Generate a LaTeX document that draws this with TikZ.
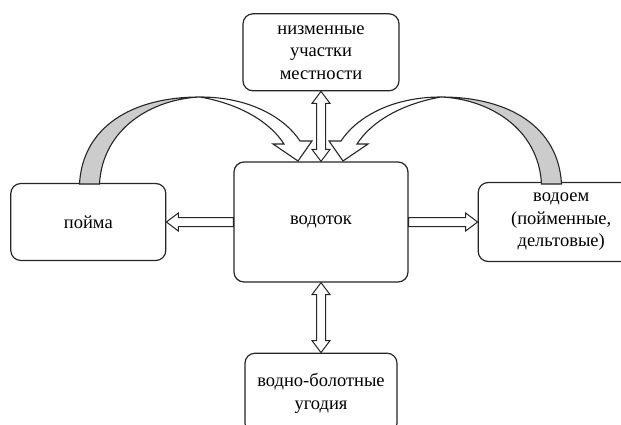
\documentclass[tikz,border=0pt]{standalone}
\usepackage{fontspec}
\setmainfont{Liberation Serif}
\usetikzlibrary{calc, positioning}

\tikzset{
  box/.style={draw=black!85, line width=1.2pt, rounded corners=10pt, fill=white,
    align=center, inner sep=2pt, font=\fontsize{18.5}{22.5}\selectfont},
  blockarrow/.style={draw=black!85, line width=1pt, fill=white, line join=miter},
  curvearrow/.style={draw=black!85, line width=1.1pt, fill=white, line join=miter},
  curveback/.style={curvearrow, fill=black!20},
}
\newcommand\shaftw{4.5pt}
\newcommand\headw{9pt}
\newcommand\headl{12pt}
% block arrow, tail #1, tip #2
\newcommand\oneway[2]{%
  \draw[blockarrow] ($(#1)!\shaftw!90:(#2)$) -- ($(#2)!\headl!(#1)!\shaftw!90:(#2)$)
    -- ($(#2)!\headl!(#1)!\headw!90:(#2)$) -- (#2)
    -- ($(#2)!\headl!(#1)!\headw!-90:(#2)$) -- ($(#2)!\headl!(#1)!\shaftw!-90:(#2)$)
    -- ($(#1)!\shaftw!-90:(#2)$) -- cycle;}
% block arrow with two heads
\newcommand\twoway[2]{%
  \draw[blockarrow] (#1) -- ($(#1)!\headl!(#2)!\headw!90:(#2)$) -- ($(#1)!\headl!(#2)!\shaftw!90:(#2)$)
    -- ($(#2)!\headl!(#1)!\shaftw!90:(#2)$) -- ($(#2)!\headl!(#1)!\headw!90:(#2)$) -- (#2)
    -- ($(#2)!\headl!(#1)!\headw!-90:(#2)$) -- ($(#2)!\headl!(#1)!\shaftw!-90:(#2)$)
    -- ($(#1)!\headl!(#2)!\shaftw!-90:(#2)$) -- ($(#1)!\headl!(#2)!\headw!-90:(#2)$) -- cycle;}

\begin{document}
\begin{tikzpicture}[x=1pt,y=-1pt]
  \useasboundingbox (0,0) rectangle (621,425);
  \clip (0,0) rectangle (621,425);
  % Boxes
  \node[box, minimum width=174pt, minimum height=120pt] (water) at (321,222) {водоток};
  \node[box, minimum width=156pt, minimum height=77pt, above=70pt of water] (lowland) {низменные\\участки\\местности};
  \node[box, minimum width=155pt, minimum height=77pt, left=67pt of water] (flood) {пойма};
  \node[box, minimum width=166pt, minimum height=79pt, right=69pt of water] (basin) {водоем\\(пойменные,\\дельтовые)};
  \node[box, minimum width=152pt, minimum height=80pt, below=70pt of water] (wetland) {водно-болотные\\угодия};
  % Straight arrows
  \oneway{water.west}{flood.east}
  \oneway{water.east}{basin.west}
  \twoway{lowland.south}{water.north}
  \twoway{water.south}{wetland.north}
  % Curved arrows
  \foreach \s in {1,-1} {
    \begin{scope}[shift={(320.5,0)}, xscale=\s]
      \draw[curveback] (-241,184) .. controls (-238,128) and (-190,97) .. (-120.5,97)
        .. controls (-168,99) and (-218,128) .. (-221,184) -- cycle;
      \draw[curvearrow] (-120.5,97) .. controls (-70.5,97) and (-35.5,118) .. (-20.5,141)
        -- (-8.5,141) -- (-22.5,161) -- (-47.5,144) -- (-36.5,144)
        .. controls (-50.5,122) and (-80.5,104) .. (-120.5,97) -- cycle;
    \end{scope}
  }
\end{tikzpicture}
\end{document}
